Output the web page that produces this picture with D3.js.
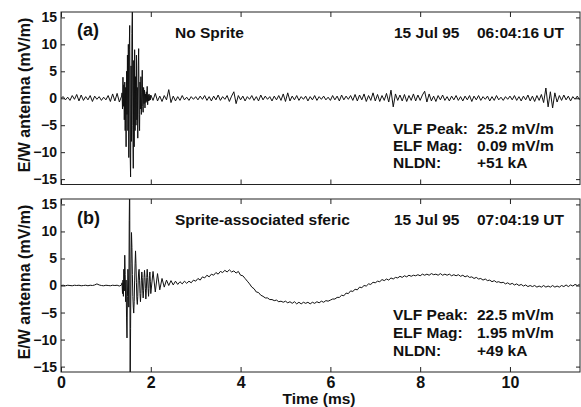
<!DOCTYPE html>
<html><head><meta charset="utf-8">
<script src="https://cdn.jsdelivr.net/npm/d3@7"></script>
<style>
html,body{margin:0;padding:0;background:#fff;}
svg text{font-family:"Liberation Sans",Arial,Helvetica,sans-serif;font-weight:bold;fill:#111;}
</style></head>
<body>
<svg id="chart" width="581" height="407"></svg>
<script>
// ---- tick labels / axes data ----
const xTicks = [0, 2, 4, 6, 8, 10];
const yTicks = [-15, -10, -5, 0, 5, 10, 15];
const xDomain = [0, 11.56];
const yDomain = [-16, 16];

const preStart = 0.00, preStep = 0.05;
const burstStart = 1.36, burstStep = 0.01;
const postStart = 2.00, postStep = 0.05;

// ---- panel (a): No Sprite (mV/m) ----
const aPre = [0, 0.3, -0.3, 0.2, -0.4, 0.5, -0.2, 0.7, -0.5, 0.6, -0.4, 0.3, -0.3, 0.5, -0.6, 0.4, -0.2, 0.3, -0.4, 0.2,
  -0.3, 0.5, -0.6, 0.8, -0.5, 0.9, -0.7, 0.4];
const aBurst = [1.0, -2, 3.9, -1.5, 2.5, -4, 3, -6, 2, -9, 5, -3, 8, -6, 10, -11, 9, 13.5, -10, -14.6,
  6, -8, 12, 17, -5, -13, 7, -9, 9, -6, 4, -5, 8, -4, 2, -7.4, 6, 9.2, -3, -6,
  3, -2, 4, -3, 1, 5.2, -1.5, -2.6, 2, -1, 1.5, -1.8, 0.8, -0.8, 1.2, -0.6, 2.2, -1.2, 0.6, -0.5,
  0.8, -0.4, 0.5, -0.3];
const aPost = [0.6, -0.4, 0.9, -0.5, 0.4, -0.6, 0.5, -0.3, 1.6, -0.8, 0.4, -0.5, 0.3, -0.4, 0.5, -0.3, 0.2, -0.4, 0.3, -0.2,
  0.3, -0.3, 0.4, -0.2, 0.5, -0.4, 0.3, -0.5, 0.4, -0.3, 0.6, -0.4, 0.3, -0.2, 0.5, -0.6, 0.4, 1.2, -1.0, 0.5,
  -0.3, 0.4, -0.5, 0.3, -0.2, 0.5, -0.4, 0.3, -0.5, 0.6, -0.3, 0.4, -0.2, 0.3, -0.5, 0.4, -0.3, 0.5, -0.4, 0.8,
  -0.6, 1.0, -0.5, 0.4, -0.3, 0.5, -0.4, 0.3, -0.2, 0.4, -0.5, 0.3, -0.3, 0.5, -0.4, 0.3, -0.2, 0.4, -0.3, 0.2,
  -0.4, 0.5, -0.3, 0.4, -0.5, 0.6, -0.3, 0.4, -0.2, 0.5, -0.4, 0.7, -0.5, 0.6, -0.3, 0.8, -0.6, 0.5, -0.4, 1.0,
  -0.5, 0.7, -0.6, 0.5, -0.4, 0.9, -0.7, 1.5, -1.6, 0.8, -0.4, 0.6, -0.5, 0.7, -0.6, 0.5, -0.4, 0.8, -0.5, 0.6,
  -0.4, 0.6, 1.3, -0.7, 0.8, -0.5, 0.4, -0.6, 0.5, -0.3, 0.6, -0.4, 0.3, -0.5, 0.4, -0.3, 0.5, -0.4, 0.3, -0.5,
  0.4, -0.3, 0.5, -0.6, 0.4, -0.3, 0.5, -0.4, 0.3, -0.2, 0.4, -0.5, 0.3, -0.4, 0.5, -0.3, 0.2, -0.4, 0.3, -0.2,
  0.4, -0.3, 0.5, -0.4, 0.3, -0.5, 0.4, -0.3, 0.6, -0.5, 0.4, -0.6, 0.5, -0.4, 0.7, -0.8, 1.9, -1.6, 1.2, -1.8,
  1.0, -0.7, 0.5, -0.4, 0.6, -0.3, 0.4, -0.5, 0.3, -0.2, 0.4, -0.3];

// ---- panel (b): Sprite-associated sferic (mV/m) ----
const bPre = [0, 0.05, -0.05, 0.05, 0, -0.05, 0.05, 0, 0.05, -0.05, 0, 0.05, -0.05, 0.05, 0, 0.1, 0.3, 0.1, 0, -0.05,
  0.05, 0, -0.05, 0.05, 0, 0.05, -0.1, 0.1];
const bBurst = [0.5, -1.5, 1.0, -2.0, 3.0, -1.0, 5.6, 2.0, -3.0, 1.0,
  -6.0, -9.7, -2.0, 3.0, 1.0, -4.0, 12, 20, -20, -8,
  4, 9.8, 7, 2, -2, -4, -5.1, -3, 1, 4,
  6.4, 4, 0.5, -2.5, -3.5, -2, 1, 2.5, 3, 1,
  -1.5, -3, -1.5, 1, 2.5, 1.5, -1, -2.3, -1, 1.5,
  2.8, 1.5, -0.5, -2.5, -1, 1.5, 3.0, 1.5, -0.5, -2.0,
  -0.5, 1.8, 2.5, 0.8];
const bPost = [-1.5, 2.6, -1.2, 2.2, -0.8, 1.3, -0.3, 1.0, 0.0, 0.9, 0.1, 0.8, 0.2, 0.7, 0.3, 0.8, 0.4, 0.8, 0.5, 1.0,
  0.8, 1.3, 1.0, 1.6, 1.4, 1.9, 1.6, 2.1, 1.9, 2.4, 2.1, 2.6, 2.4, 2.8, 2.5, 2.9, 2.5, 2.7, 2.3, 2.6,
  1.9, 1.8, 1.3, 0.8, 0.3, -0.3, -0.6, -1.2, -1.3, -1.8, -2.0, -2.3, -2.3, -2.6, -2.6, -2.8, -2.7, -3.0, -2.9, -3.1,
  -2.9, -3.2, -3.0, -3.3, -3.0, -3.4, -3.1, -3.4, -3.1, -3.3, -3.1, -3.4, -3.1, -3.3, -3.0, -3.2, -2.9, -3.1, -2.8, -2.9,
  -2.7, -2.5, -2.5, -2.2, -2.2, -1.8, -1.9, -1.4, -1.5, -1.0, -1.1, -0.7, -0.8, -0.3, -0.4, 0.0, -0.1, 0.3, 0.2, 0.6,
  0.5, 0.8, 0.7, 1.1, 0.9, 1.2, 1.0, 1.4, 1.2, 1.5, 1.4, 1.7, 1.5, 1.8, 1.6, 1.9, 1.7, 1.9, 1.8, 2.0,
  1.8, 2.1, 1.9, 2.1, 1.9, 2.2, 2.0, 2.1, 1.9, 2.2, 1.9, 2.1, 1.9, 2.1, 1.8, 2.0, 1.8, 2.0, 1.7, 1.9,
  1.6, 1.8, 1.5, 1.6, 1.3, 1.5, 1.2, 1.3, 1.0, 1.2, 0.9, 1.0, 0.7, 0.9, 0.6, 0.7, 0.5, 0.6, 0.3, 0.5,
  0.2, 0.4, 0.1, 0.3, 0.0, 0.2, -0.1, 0.1, -0.2, 0.0, -0.2, 0.0, -0.3, -0.1, -0.3, 0.0, -0.3, -0.1, -0.3, 0.0,
  -0.3, -0.1, -0.3, 0.0, -0.2, 0.1, -0.2, 0.1, -0.1, 0.2, 0.0, 0.2];

// ---- annotation texts ----
const panelLetters = ["(a)", "(b)"];
const panelTitles = ["No Sprite", "Sprite-associated sferic"];
const panelDates = ["15 Jul 95", "15 Jul 95"];
const panelTimes = ["06:04:16 UT", "07:04:19 UT"];
const infoLabels = ["VLF Peak:", "ELF Mag:", "NLDN:"];
const infoValuesA = ["25.2 mV/m", "0.09 mV/m", "+51 kA"];
const infoValuesB = ["22.5 mV/m", "1.95 mV/m", "+49 kA"];
const yLabel = "E/W antenna (mV/m)";
const xLabel = "Time (ms)";

// ---- layout ----
const svg = d3.select("#chart");
const X0 = 61, X1 = 580;
const x = d3.scaleLinear().domain(xDomain).range([X0, X1]);

const panels = [
  {top: 12, bottom: 184.5, pre: aPre, burst: aBurst, post: aPost, info: infoValuesA,
   letterY: 36, titleY: 38, infoY: [134, 151, 168], labelCY: 95, xLabels: false},
  {top: 199, bottom: 372, pre: bPre, burst: bBurst, post: bPost, info: infoValuesB,
   letterY: 224, titleY: 225, infoY: [320, 338, 356], labelCY: 282, xLabels: true}
];

function series(pre, burst, post) {
  const pts = [];
  pre.forEach((v, i) => pts.push([preStart + i * preStep, v]));
  burst.forEach((v, i) => pts.push([burstStart + i * burstStep, v]));
  post.forEach((v, i) => pts.push([postStart + i * postStep, v]));
  return pts;
}

const defs = svg.append("defs");

panels.forEach((p, k) => {
  const y = d3.scaleLinear().domain(yDomain).range([p.bottom, p.top]);
  const g = svg.append("g");

  defs.append("clipPath").attr("id", "clip" + k)
    .append("rect").attr("x", X0).attr("y", p.top).attr("width", X1 - X0).attr("height", p.bottom - p.top);

  // trace
  const line = d3.line().x(d => x(d[0])).y(d => y(d[1]));
  g.append("path")
    .datum(series(p.pre, p.burst, p.post))
    .attr("clip-path", "url(#clip" + k + ")")
    .attr("d", line)
    .attr("fill", "none").attr("stroke", "#111").attr("stroke-width", 1);

  // axes (inward ticks)
  const left = g.append("g").attr("transform", `translate(${X0},0)`)
    .call(d3.axisLeft(y).tickValues(yTicks).tickSizeInner(-4).tickSizeOuter(0).tickPadding(4));
  left.selectAll("text").style("font-size", "14px");
  const right = g.append("g").attr("transform", `translate(${X1},0)`)
    .call(d3.axisRight(y).tickValues(yTicks).tickSizeInner(-4).tickSizeOuter(0).tickFormat(""));
  const top = g.append("g").attr("transform", `translate(0,${p.top})`)
    .call(d3.axisTop(x).tickValues(xTicks).tickSizeInner(-5).tickSizeOuter(0).tickFormat(""));
  const bottom = g.append("g").attr("transform", `translate(0,${p.bottom})`)
    .call(d3.axisBottom(x).tickValues(xTicks).tickSizeInner(-5).tickSizeOuter(0).tickPadding(5)
      .tickFormat(p.xLabels ? d3.format("d") : ""));
  bottom.selectAll("text").style("font-size", "16px");
  [left, right, top, bottom].forEach(a => {
    a.select(".domain").remove();
    a.selectAll("line").attr("stroke", "#222");
    a.selectAll("text").attr("fill", "#111").style("font-weight", "bold");
    a.attr("font-family", null);
  });

  // frame
  g.append("rect").attr("x", X0).attr("y", p.top).attr("width", X1 - X0).attr("height", p.bottom - p.top)
    .attr("fill", "none").attr("stroke", "#222").attr("stroke-width", 1);

  // annotations
  g.append("text").attr("x", 77).attr("y", p.letterY).style("font-size", "18px").text(panelLetters[k]);
  g.append("text").attr("x", 175).attr("y", p.titleY).style("font-size", "15.5px").text(panelTitles[k]);
  g.append("text").attr("x", 394).attr("y", p.titleY).style("font-size", "15.5px").text(panelDates[k]);
  g.append("text").attr("x", 477).attr("y", p.titleY).style("font-size", "15.5px").text(panelTimes[k]);
  infoLabels.forEach((t, i) => {
    g.append("text").attr("x", 393).attr("y", p.infoY[i]).style("font-size", "15.5px").text(t);
    g.append("text").attr("x", 477).attr("y", p.infoY[i]).style("font-size", "15.5px").text(p.info[i]);
  });

  // y-axis label
  g.append("text")
    .attr("transform", `translate(30,${p.labelCY}) rotate(-90)`)
    .attr("text-anchor", "middle").style("font-size", "16px").text(yLabel);
});

svg.append("text").attr("x", 319).attr("y", 404).attr("text-anchor", "middle")
  .style("font-size", "15.5px").text(xLabel);
</script>
</body></html>
